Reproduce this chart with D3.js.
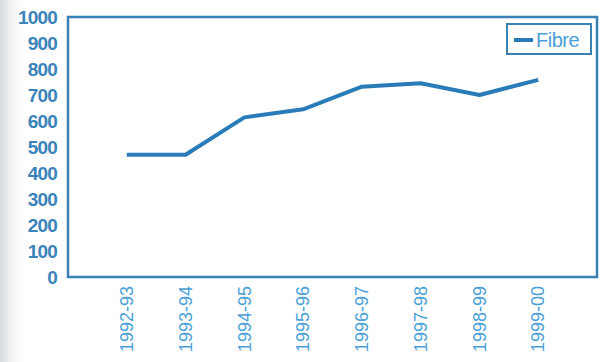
<!DOCTYPE html>
<html>
<head>
<meta charset="utf-8">
<script src="https://cdn.jsdelivr.net/npm/d3@7"></script>
<style>
  html, body { margin: 0; padding: 0; background: #fff; }
  svg { display: block; }
</style>
</head>
<body>
<div id="chart"></div>
<script>
// Fibre figures by financial year
const years = ["1992-93", "1993-94", "1994-95", "1995-96", "1996-97", "1997-98", "1998-99", "1999-00"];
const fibre = [470, 470, 614, 645, 732, 745, 700, 758];
const yTicks = [0, 100, 200, 300, 400, 500, 600, 700, 800, 900, 1000];
const seriesName = "Fibre";

const W = 604, H = 362;
const box = { left: 68, top: 17, right: 597, bottom: 277 };

const svg = d3.select("#chart").append("svg")
  .attr("width", W).attr("height", H);

// soft grey shading along the left edge of the page
const defs = svg.append("defs");
const grad = defs.append("linearGradient").attr("id", "edge").attr("x1", 0).attr("x2", 1);
grad.append("stop").attr("offset", 0).attr("stop-color", "#d6dbde");
grad.append("stop").attr("offset", 1).attr("stop-color", "#ffffff").attr("stop-opacity", 0);
svg.append("rect").attr("x", 0).attr("y", 0).attr("width", 30).attr("height", H).attr("fill", "url(#edge)");

const x = d3.scalePoint().domain(years).range([box.left, box.right]).padding(1);
const y = d3.scaleLinear().domain([0, 1000]).range([box.bottom, box.top]);

// y axis labels
const yAxis = d3.axisLeft(y).tickValues(yTicks).tickFormat(d3.format("d")).tickSize(0).tickPadding(11);
svg.append("g").attr("transform", `translate(${box.left},0)`).call(yAxis)
  .call(g => g.select(".domain").remove())
  .selectAll("text")
  .attr("font-family", "Liberation Sans, Arial, sans-serif")
  .attr("font-size", 19).attr("letter-spacing", -0.8)
  .attr("font-weight", 600)
  .attr("fill", "#3b84ba");

// x axis labels, rotated to read bottom-up
const xAxis = d3.axisBottom(x).tickSize(0).tickPadding(0);
svg.append("g").attr("transform", `translate(0,${box.bottom})`).call(xAxis)
  .call(g => g.select(".domain").remove())
  .selectAll("text")
  .attr("font-family", "Liberation Sans, Arial, sans-serif")
  .attr("font-size", 18)
  .attr("fill", "#4aa0d6")
  .attr("text-anchor", "end")
  .attr("dy", null)
  .attr("transform", "translate(1,9) rotate(-90)")
  .attr("dominant-baseline", "middle");

// plot frame
svg.append("rect")
  .attr("x", box.left).attr("y", box.top)
  .attr("width", box.right - box.left).attr("height", box.bottom - box.top)
  .attr("fill", "none").attr("stroke", "#3b80b3").attr("stroke-width", 2.5);

// series line
const line = d3.line().x((d, i) => x(years[i])).y(d => y(d));
svg.append("path").datum(fibre)
  .attr("d", line)
  .attr("fill", "none").attr("stroke", "#2a7cb9")
  .attr("stroke-width", 4).attr("stroke-linejoin", "round");

// legend
const lg = svg.append("g").attr("transform", "translate(507,24)");
lg.append("rect").attr("width", 84).attr("height", 30)
  .attr("fill", "#fff").attr("stroke", "#3b80b3").attr("stroke-width", 2);
lg.append("line").attr("x1", 7).attr("x2", 26).attr("y1", 16).attr("y2", 16)
  .attr("stroke", "#2a7cb9").attr("stroke-width", 4);
lg.append("text").attr("x", 29).attr("y", 16).attr("dy", "0.36em")
  .attr("font-family", "Liberation Sans, Arial, sans-serif")
  .attr("font-size", 20).attr("letter-spacing", -0.5)
  .attr("fill", "#4aa0d6").text(seriesName);
</script>
</body>
</html>
